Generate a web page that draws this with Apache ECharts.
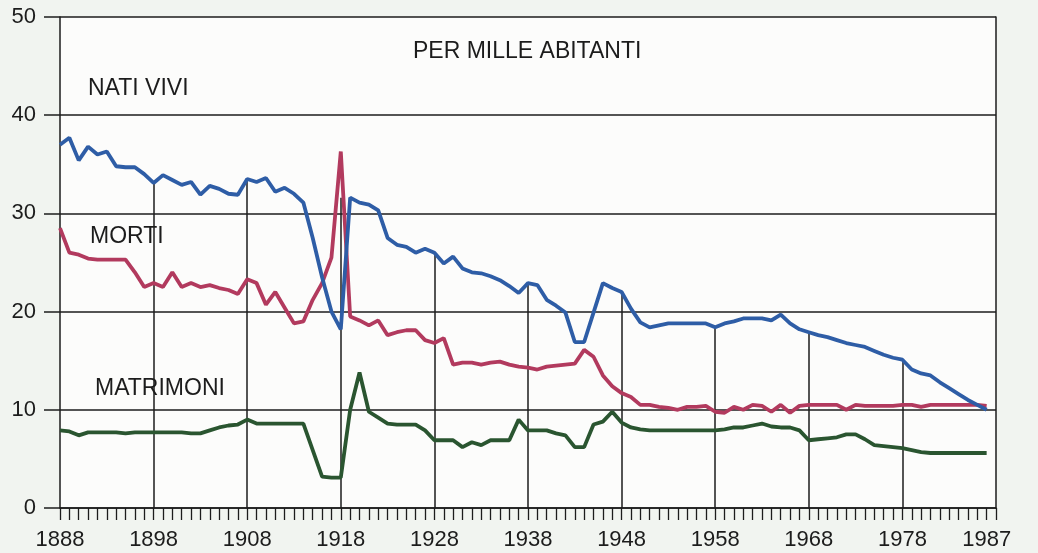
<!DOCTYPE html>
<html>
<head>
<meta charset="utf-8">
<script src="https://cdn.jsdelivr.net/npm/echarts@6/dist/echarts.min.js"></script>
<style>
html,body{margin:0;padding:0;background:#f1f4f0;}
#chart{width:1038px;height:553px;}
</style>
</head>
<body>
<div id="chart"></div>
<script>
// ---- DATA ----
const startYear = 1888;
const endYear = 1987;
const xTickLabels = [1888, 1898, 1908, 1918, 1928, 1938, 1948, 1958, 1968, 1978, 1987];
const yTickLabels = [0, 10, 20, 30, 40, 50];
const gridYears = [1898, 1908, 1918, 1928, 1938, 1948, 1958, 1968, 1978];
const seriesNames = ['NATI VIVI', 'MORTI', 'MATRIMONI'];
const headerText = 'PER MILLE ABITANTI';

// Nati vivi (births per 1000), 1888-1987
const natiVivi = [
  37.0, 37.7, 35.4, 36.8, 36.0, 36.3, 34.8, 34.7, 34.7, 34.0,
  33.1, 33.9, 33.4, 32.9, 33.2, 31.9, 32.8, 32.5, 32.0, 31.9,
  33.5, 33.2, 33.6, 32.2, 32.6, 32.0, 31.1, 27.5, 23.5, 20.0,
  18.2, 31.6, 31.1, 30.9, 30.3, 27.5, 26.8, 26.6, 26.0, 26.4,
  26.0, 24.9, 25.6, 24.4, 24.0, 23.9, 23.6, 23.2, 22.6, 21.9,
  22.9, 22.7, 21.2, 20.6, 19.9, 16.9, 16.9, 19.9, 22.9, 22.4,
  22.0, 20.3, 18.9, 18.4, 18.6, 18.8, 18.8, 18.8, 18.8, 18.8,
  18.4, 18.8, 19.0, 19.3, 19.3, 19.3, 19.1, 19.7, 18.8, 18.2,
  17.9, 17.6, 17.4, 17.1, 16.8, 16.6, 16.4, 16.0, 15.6, 15.3,
  15.1, 14.1, 13.7, 13.5, 12.8, 12.2, 11.6, 11.0, 10.5, 10.0
];
// Morti (deaths per 1000), 1888-1987
const morti = [
  28.5, 26.0, 25.8, 25.4, 25.3, 25.3, 25.3, 25.3, 24.0, 22.5,
  22.9, 22.5, 24.0, 22.5, 22.9, 22.5, 22.7, 22.4, 22.2, 21.8,
  23.3, 22.9, 20.7, 22.0, 20.4, 18.8, 19.0, 21.2, 22.9, 25.5,
  36.3, 19.5, 19.1, 18.6, 19.1, 17.6, 17.9, 18.1, 18.1, 17.1,
  16.8, 17.3, 14.6, 14.8, 14.8, 14.6, 14.8, 14.9, 14.6, 14.4,
  14.3, 14.1, 14.4, 14.5, 14.6, 14.7, 16.1, 15.4, 13.5, 12.4,
  11.7, 11.3, 10.5, 10.5, 10.3, 10.2, 10.0, 10.3, 10.3, 10.4,
  9.8, 9.7, 10.3, 10.0, 10.5, 10.4, 9.8, 10.5, 9.7, 10.4,
  10.5, 10.5, 10.5, 10.5, 10.0, 10.5, 10.4, 10.4, 10.4, 10.4,
  10.5, 10.5, 10.3, 10.5, 10.5, 10.5, 10.5, 10.5, 10.5, 10.4
];
// Matrimoni (marriages per 1000), 1888-1987
const matrimoni = [
  7.9, 7.8, 7.4, 7.7, 7.7, 7.7, 7.7, 7.6, 7.7, 7.7,
  7.7, 7.7, 7.7, 7.7, 7.6, 7.6, 7.9, 8.2, 8.4, 8.5,
  9.0, 8.6, 8.6, 8.6, 8.6, 8.6, 8.6, 5.9, 3.2, 3.1,
  3.1, 10.0, 13.8, 9.8, 9.2, 8.6, 8.5, 8.5, 8.5, 7.9,
  6.9, 6.9, 6.9, 6.2, 6.7, 6.4, 6.9, 6.9, 6.9, 9.0,
  7.9, 7.9, 7.9, 7.6, 7.4, 6.2, 6.2, 8.5, 8.8, 9.8,
  8.7, 8.2, 8.0, 7.9, 7.9, 7.9, 7.9, 7.9, 7.9, 7.9,
  7.9, 8.0, 8.2, 8.2, 8.4, 8.6, 8.3, 8.2, 8.2, 7.9,
  6.9, 7.0, 7.1, 7.2, 7.5, 7.5, 7.0, 6.4, 6.3, 6.2,
  6.1, 5.9, 5.7, 5.6, 5.6, 5.6, 5.6, 5.6, 5.6, 5.6
];

// ---- BUILD ----
const years = [];
for (let y = startYear; y <= endYear; y++) years.push(y);
const toPairs = arr => years.map((y, i) => [y, arr[i]]);

// vertical grid lines rise from 0 up to the births curve
const vLines = gridYears.map(yr => {
  const i = yr - startYear;
  let top = natiVivi[i];
  if (natiVivi[i + 1] - natiVivi[i] > 5) top = natiVivi[i + 1];
  return [{ coord: [yr, 0] }, { coord: [yr, top] }];
});

const FONT = '"Liberation Sans", Arial, Helvetica, sans-serif';
const INK = '#1c1c1c';

const chart = echarts.init(document.getElementById('chart'));
chart.setOption({
  backgroundColor: '#f1f4f0',
  animation: false,
  grid: {
    left: 60, right: 42, top: 17, bottom: 45,
    show: true, backgroundColor: '#fcfcfb', borderWidth: 0
  },
  xAxis: {
    type: 'value', min: startYear, max: endYear + 1, interval: 1,
    axisLine: { show: true, lineStyle: { color: INK, width: 1.5 } },
    axisTick: { show: true, length: 12, lineStyle: { color: INK, width: 1.3 } },
    axisLabel: {
      margin: 21, fontSize: 22, color: INK, fontFamily: FONT,
      showMinLabel: true, showMaxLabel: true,
      formatter: v => xTickLabels.includes(v) ? String(v) : ''
    },
    splitLine: { show: false }
  },
  yAxis: [{
    type: 'value', min: 0, max: 50, interval: 10,
    axisLine: { show: true, lineStyle: { color: INK, width: 1.5 } },
    axisTick: { show: true, length: 16, lineStyle: { color: INK, width: 1.5 } },
    axisLabel: {
      margin: 24, fontSize: 22, color: INK, fontFamily: FONT,
      formatter: v => yTickLabels.includes(v) ? String(v) : ''
    },
    splitLine: { show: true, lineStyle: { color: INK, width: 1.5 } }
  }, {
    type: 'value', min: 0, max: 50, interval: 10, position: 'right',
    axisLine: { show: true, lineStyle: { color: INK, width: 1.5 } },
    axisTick: { show: false }, axisLabel: { show: false },
    splitLine: { show: false }
  }],
  graphic: [
    { type: 'text', left: 413, top: 40, style: { text: headerText, font: '23px ' + FONT, fill: INK } },
    { type: 'text', left: 88, top: 77, style: { text: seriesNames[0], font: '23px ' + FONT, fill: INK } },
    { type: 'text', left: 90, top: 225, style: { text: seriesNames[1], font: '23px ' + FONT, fill: INK } },
    { type: 'text', left: 95, top: 377, style: { text: seriesNames[2], font: '23px ' + FONT, fill: INK } }
  ],
  series: [
    {
      name: seriesNames[2], type: 'line', data: toPairs(matrimoni),
      showSymbol: false, symbol: 'none',
      lineStyle: { color: '#2a5530', width: 3.8 }, z: 3
    },
    {
      name: seriesNames[1], type: 'line', data: toPairs(morti),
      showSymbol: false, symbol: 'none',
      lineStyle: { color: '#b23a5e', width: 3.8 }, z: 4
    },
    {
      name: seriesNames[0], type: 'line', data: toPairs(natiVivi),
      showSymbol: false, symbol: 'none',
      lineStyle: { color: '#2e5da6', width: 3.8 }, z: 5,
      markLine: {
        silent: true, symbol: 'none', label: { show: false },
        lineStyle: { color: INK, width: 1.5, type: 'solid' },
        z: 1, data: vLines
      }
    }
  ]
});
</script>
</body>
</html>
